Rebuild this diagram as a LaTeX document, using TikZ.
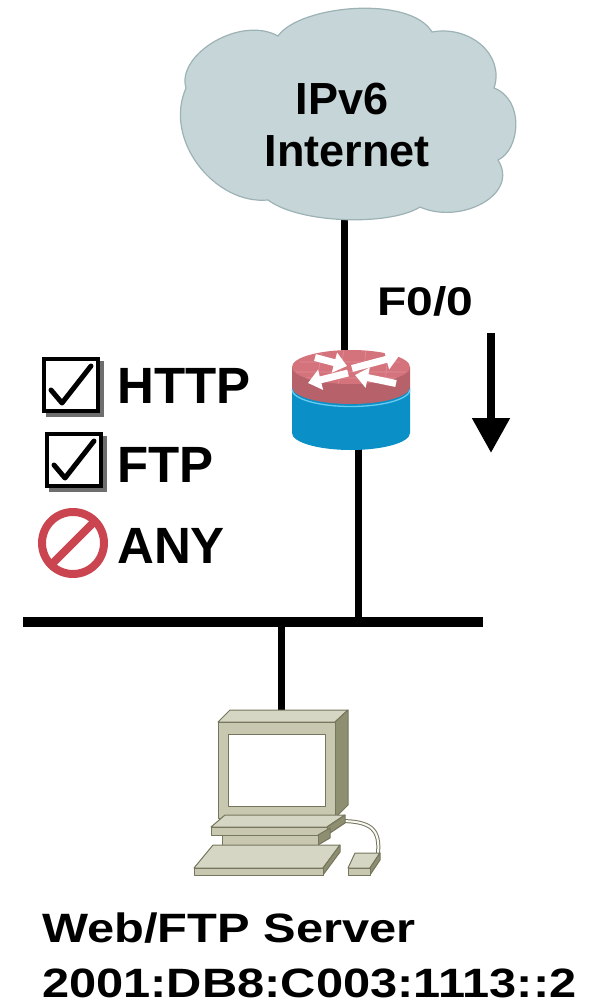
\documentclass[tikz,border=0pt]{standalone}
\usepackage{fontspec}
\setmainfont{Liberation Sans}
\usetikzlibrary{arrows.meta}

\definecolor{cloudfill}{HTML}{C6D5D7}
\definecolor{cloudline}{HTML}{9DB2B5}
\definecolor{rtrtop}{HTML}{D5737D}
\definecolor{rtrside}{HTML}{B7626A}
\definecolor{rtrgrid}{HTML}{E08E96}
\definecolor{rtrblue}{HTML}{0A8FC6}
\definecolor{rtrlight}{HTML}{66CCF2}
\definecolor{pcfront}{HTML}{C8C8B1}
\definecolor{pctop}{HTML}{D6D6C4}
\definecolor{pcside}{HTML}{8E8E70}
\definecolor{pcline}{HTML}{76765E}
\definecolor{nored}{HTML}{CB4550}
\definecolor{boxshade}{HTML}{6E6E6E}

\tikzset{
  link/.style={line width=7pt},
  lanbus/.style={line width=10pt},
  biglabel/.style={font=\bfseries\fontsize{51}{51}\selectfont, anchor=base west, inner sep=0pt},
  cloudlabel/.style={font=\bfseries\fontsize{45}{45}\selectfont, anchor=base, inner sep=0pt},
  portlabel/.style={font=\bfseries\fontsize{40}{40}\selectfont, anchor=base west, inner sep=0pt},
  hostlabel/.style={font=\bfseries\fontsize{41}{41}\selectfont, anchor=base west, inner sep=0pt},
  pcface/.style={fill=#1, draw=pcline, line width=1pt, line join=round},
  rtrarrow/.style={white, line width=7pt, -{Triangle[length=13pt,width=20pt]}},
  checkmark/.style={line width=5pt, line join=round, line cap=round},
}

\begin{document}
\begin{tikzpicture}[x=1pt,y=-1pt]
\useasboundingbox (0,0) rectangle (591,1008);

% attachment points
\coordinate (cloudbot) at (344,212);
\coordinate (rtop) at (344,360);
\coordinate (rbot) at (358,440);
\coordinate (busdrop) at (358,622);
\coordinate (busL) at (23,622);
\coordinate (busR) at (483,622);
\coordinate (busPC) at (281,622);
\coordinate (pctop) at (281,714);

% links
\draw[link] (cloudbot) -- (rtop);
\draw[link] (rbot) -- (busdrop);
\draw[lanbus] (busL) -- (busR);
\draw[link] (busPC) -- (pctop);

% cloud
\filldraw[fill=cloudfill, draw=cloudline, line width=1.2pt]
  (186,88) .. controls (176,55) and (240,15) .. (278,36)
  .. controls (300,5) and (410,-5) .. (432,32)
  .. controls (470,25) and (505,55) .. (494,88)
  .. controls (525,100) and (520,150) .. (498,160)
  .. controls (520,195) and (460,225) .. (420,207)
  .. controls (390,226) and (300,224) .. (268,200)
  .. controls (215,205) and (163,140) .. (186,88) -- cycle;
\node[cloudlabel] (ipv6) at (342,115) {IPv6};
\node[cloudlabel] (inet) at (347,167) {Internet};

% router
\fill[rtrblue] (292,387) -- (292,433) arc[start angle=180, end angle=360, x radius=59pt, y radius=17pt] -- (410,387) -- cycle;
\fill[rtrside] (292,367) -- (292,387) arc[start angle=180, end angle=360, x radius=59pt, y radius=17pt] -- (410,367) -- cycle;
\draw[rtrlight, line width=1.3pt] (292,389.5) arc[start angle=180, end angle=360, x radius=59pt, y radius=17pt];
\fill[rtrtop] (351,367) ellipse[x radius=59pt, y radius=17pt];
\begin{scope}
  \clip (351,367) ellipse[x radius=59pt, y radius=17pt];
  \draw[rtrgrid, line width=0.6pt]
    (300,362) -- (400,362) (296,372) -- (406,372) (305,378) -- (398,378)
    (322,352) -- (316,384) (344,350) -- (338,385) (366,350) -- (362,385) (388,352) -- (385,384);
\end{scope}
\draw[rtrarrow] (352,368.5) -- (399,356);
\draw[rtrarrow] (348,373) -- (308,383);
\draw[rtrarrow] (315,357.5) -- (347,366);
\draw[rtrarrow] (396,383.5) -- (355,375);
\node[inner sep=0pt, minimum width=118pt, minimum height=100pt] (router) at (351,400) {};

% port label and traffic direction
\node[portlabel] (f00) at (377,315) {\scalebox{1.2}[1]{F0/0}};
\coordinate (dirtop) at (491,333);
\coordinate (dirend) at (491,453);
\draw[line width=8pt, -{Triangle[length=35pt,width=36pt]}] (dirtop) -- (dirend);

% permitted services
\fill[boxshade] (46,361) rectangle (104,417);
\filldraw[fill=white, draw=black, line width=4.5pt] (44,359) rectangle (98,411);
\draw[checkmark] (51,390) -- (62,403) -- (91,366);
\fill[boxshade] (49,436) rectangle (107,492);
\filldraw[fill=white, draw=black, line width=4.5pt] (47,434) rectangle (101,486);
\draw[checkmark] (54,465) -- (65,478) -- (94,441);
\node[biglabel] (http) at (117,403) {HTTP};
\node[biglabel] (ftp) at (117,482) {FTP};

% denied traffic
\draw[nored, line width=8pt] (73,543) circle[radius=31pt];
\draw[nored, line width=8pt] (95,521) -- (51,565);
\node[biglabel] (any) at (117,563) {ANY};

% workstation: cable
\draw[pcline, line width=4pt, line cap=round] (340,821) .. controls (372,821) and (380,830) .. (378,853);
\draw[white!85!pctop, line width=2pt, line cap=round] (340,821) .. controls (372,821) and (380,830) .. (378,853);
% monitor
\path[pcface=pctop] (218,722) -- (230,710) -- (348,710) -- (335,722) -- cycle;
\path[pcface=pcside] (335,722) -- (348,710) -- (348,805) -- (335,818) -- cycle;
\path[pcface=pcfront] (218,722) rectangle (335,818);
\path[pcface=white] (228,734) rectangle (325,806);
\path[pcface=pcside] (228,818) -- (320,818) -- (316,822) -- (232,822) -- cycle;
% stand plate
\path[pcface=pctop] (211,827) -- (225,815) -- (345,815) -- (327,827) -- cycle;
\path[pcface=pcside] (327,827) -- (345,815) -- (345,823) -- (327,835) -- cycle;
\path[pcface=pcfront] (211,827) rectangle (327,835);
% pedestal
\path[pcface=pcside] (318,835) -- (330,828) -- (330,838) -- (318,845) -- cycle;
\path[pcface=pcfront] (222,835) rectangle (318,845);
% keyboard
\path[pcface=pctop] (194,868) -- (213,845) -- (340,845) -- (323,868) -- cycle;
\path[pcface=pcside] (323,868) -- (340,845) -- (340,852) -- (323,875) -- cycle;
\path[pcface=pcfront] (194,868) rectangle (323,875);
% mouse
\path[pcface=pctop] (348,868) -- (355,853) -- (380,853) -- (370,868) -- cycle;
\path[pcface=pcside] (370,868) -- (380,853) -- (380,860) -- (370,875) -- cycle;
\path[pcface=pcfront] (348,868) rectangle (370,875);
\node[inner sep=0pt, minimum width=186pt, minimum height=165pt] (server) at (287,792) {};

% server labels
\node[hostlabel] (hostname) at (42,942) {\scalebox{1.19}[1]{Web/FTP Server}};
\node[hostlabel] (hostaddr) at (42,997) {\scalebox{1.19}[1]{2001:DB8:C003:1113::2}};
\end{tikzpicture}
\end{document}
